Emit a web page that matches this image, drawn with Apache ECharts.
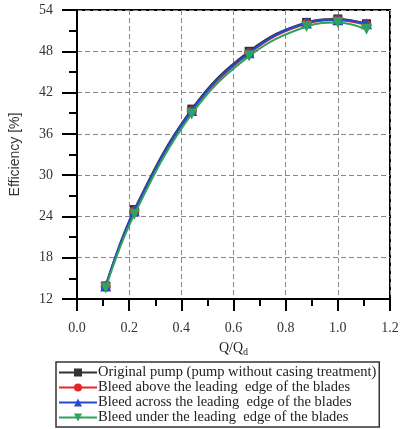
<!DOCTYPE html>
<html>
<head>
<meta charset="utf-8">
<script src="https://cdn.jsdelivr.net/npm/echarts@6/dist/echarts.min.js"></script>
<style>html,body{margin:0;padding:0;background:#fff}#c{width:402px;height:429px}</style>
</head>
<body>
<div id="c"></div>
<script>
const flowRatio = [0.11, 0.22, 0.44, 0.66, 0.88, 1.0, 1.11];
const original = [13.9, 25.0, 39.6, 48.0, 52.2, 52.7, 52.0];
const bleedAbove = [13.8, 24.7, 39.3, 47.7, 52.0, 52.5, 51.8];
const bleedAcross = [13.9, 24.8, 39.4, 47.8, 52.1, 52.6, 52.0];
const bleedUnder = [13.6, 24.3, 38.9, 47.3, 51.6, 52.2, 51.2];
const seriesNames = [
  'Original pump (pump without casing treatment)',
  'Bleed above the leading  edge of the blades',
  'Bleed across the leading  edge of the blades',
  'Bleed under the leading  edge of the blades'
];
const xTicks = [0.0, 0.2, 0.4, 0.6, 0.8, 1.0, 1.2];
const yTicks = [12, 18, 24, 30, 36, 42, 48, 54];

const serif = 'Liberation Serif';
function pairs(vals){ return flowRatio.map((x,i)=>[x, vals[i]]); }
const cfg = [
  {data: original, color:'#333333', symbol:'rect', size:9},
  {data: bleedAbove, color:'#e3262d', symbol:'circle', size:10},
  {data: bleedAcross, color:'#2648d0', symbol:'triangle', size:11},
  {data: bleedUnder, color:'#2ea35c', symbol:'path://M0,0 L10,0 L5,9 Z', size:11}
];
const chart = echarts.init(document.getElementById('c'), null, {renderer:'canvas'});
chart.setOption({
  animation:false,
  backgroundColor:'#fff',
  grid:{left:75, right:12, top:10, bottom:130, show:true, borderColor:'#000', borderWidth:2, backgroundColor:'transparent'},
  xAxis:{
    type:'value', min:0, max:1.2, interval:0.2,
    name:'{a|Q/Q}{b|d}', nameLocation:'middle', nameGap:40,
    nameTextStyle:{rich:{a:{fontFamily:serif,fontSize:14,color:'#222'},b:{fontFamily:serif,fontSize:10,color:'#222',verticalAlign:'bottom',padding:[8,0,0,0]}}},
    axisLine:{show:true, lineStyle:{color:'#000', width:2}},
    axisTick:{show:true, inside:false, length:12, lineStyle:{color:'#000', width:2}},
    minorTick:{show:true, splitNumber:2, length:7, lineStyle:{color:'#000', width:2}},
    axisLabel:{margin:22, fontFamily:serif, fontSize:14, color:'#333', formatter:v=>v.toFixed(1)},
    splitLine:{show:true, lineStyle:{color:'#888', type:[5,3], width:1}}
  },
  yAxis:{
    type:'value', min:12, max:54, interval:6,
    name:'Efficiency [%]', nameLocation:'middle', nameGap:55,
    nameTextStyle:{fontFamily:'Liberation Sans', fontSize:14, color:'#333'},
    axisLine:{show:true, lineStyle:{color:'#000', width:2}},
    axisTick:{show:true, inside:false, length:15, lineStyle:{color:'#000', width:2}},
    minorTick:{show:true, splitNumber:2, length:8, lineStyle:{color:'#000', width:2}},
    axisLabel:{margin:24, fontFamily:serif, fontSize:14, color:'#333'},
    splitLine:{show:true, lineStyle:{color:'#888', type:[5,3], width:1}}
  },
  legend:{
    orient:'vertical', left:56, top:362, itemGap:0, itemWidth:38, itemHeight:10,
    borderColor:'#333', borderWidth:1.5, padding:[3,3,2,2],
    textStyle:{fontFamily:serif, fontSize:14.5, lineHeight:14.7, color:'#222', padding:[0,0,0,-4]},
    data:seriesNames
  },
  series: cfg.map((c,i)=>({
    name: seriesNames[i], type:'line', smooth:0.4, data:pairs(c.data),
    symbol:c.symbol, symbolSize:c.size, color:c.color,
    lineStyle:{width:2, color:c.color}, itemStyle:{color:c.color},
    z: 2+i
  }))
});
</script>
</body>
</html>
